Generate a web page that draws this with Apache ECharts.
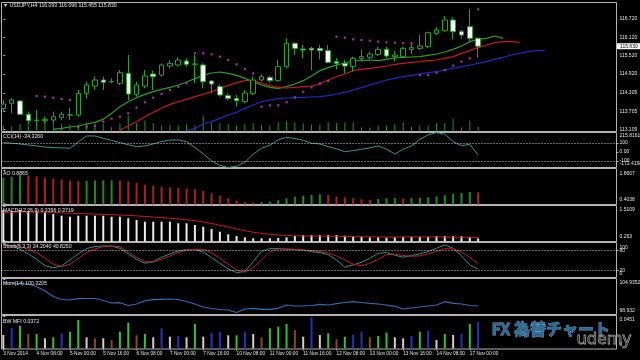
<!DOCTYPE html>
<html><head><meta charset="utf-8">
<script src="https://cdn.jsdelivr.net/npm/echarts@6/dist/echarts.min.js"></script>
<style>html,body{margin:0;padding:0;background:#000}#c{width:640px;height:360px}</style>
</head><body><div id="c"></div>
<script>
// ---------------- DATA ----------------
const symbolName = 'USDJPY,H4';
const opens = [113.790,113.964,114.040,113.605,113.400,113.398,113.419,113.506,113.580,113.583,
114.291,114.530,114.727,114.670,114.618,114.944,114.258,114.530,114.923,114.890,
115.184,115.217,115.347,115.240,115.217,114.694,114.509,114.215,114.127,114.018,
114.291,114.727,114.814,114.705,115.162,115.925,115.740,115.761,115.761,115.685,
115.326,115.271,115.162,115.435,115.467,115.565,115.729,115.489,115.489,115.729,
115.761,115.816,116.252,116.339,116.687,116.306,116.469,116.093];
const highs = [114.073,114.130,114.073,113.692,113.746,113.528,113.692,113.692,113.801,114.400,
114.672,114.835,114.835,114.781,115.053,115.544,114.672,115.053,115.032,115.271,
115.380,115.467,115.435,115.550,115.271,114.727,114.563,114.291,114.236,114.400,
114.835,114.923,114.857,115.380,116.088,115.947,115.870,115.816,115.870,115.870,
115.435,115.380,115.489,115.729,115.652,115.816,115.816,115.685,115.816,115.947,
116.197,116.306,116.448,116.818,116.774,116.361,117.036,116.096];
const lows = [113.692,113.640,113.583,113.289,113.220,113.300,113.300,113.419,113.420,113.528,
114.127,114.400,114.400,114.620,114.563,114.073,114.182,114.454,114.400,114.835,
115.108,115.162,115.162,114.618,114.454,114.291,114.182,114.073,113.855,113.964,
114.236,114.672,114.639,114.672,115.108,115.544,115.435,115.053,115.400,115.271,
115.075,114.944,114.999,115.326,115.402,115.511,115.435,115.326,115.435,115.576,
115.707,115.761,116.197,116.306,116.056,116.088,115.979,115.455];
const closes = [113.942,114.073,113.605,113.398,113.410,113.441,113.528,113.610,113.590,114.291,
114.563,114.727,114.650,114.680,114.966,114.269,114.563,114.857,114.835,115.217,
115.271,115.380,115.239,115.250,114.672,114.596,114.236,114.127,114.051,114.300,
114.727,114.835,114.705,115.162,115.925,115.761,115.707,115.707,115.685,115.304,
115.271,115.184,115.435,115.489,115.576,115.729,115.511,115.544,115.761,115.783,
115.838,116.273,116.361,116.687,116.306,116.197,116.088,115.830];
const tickVolume = [600,500,770,700,1170,1270,1270,770,700,700,
930,700,770,430,830,1600,830,1100,830,600,
700,600,700,600,1600,930,830,770,600,770,
830,670,600,930,1030,930,830,700,700,930,
830,930,930,400,400,600,600,730,930,500,
600,600,830,830,1270,400,1070,500];
// Alligator (already shifted forward: lips +3, teeth +5, jaw +8)
const lips = [null,null,null,null,null,null,
113.114,113.147,113.191,113.223,113.289,113.343,113.441,113.637,113.855,114.018,
114.149,114.258,114.345,114.422,114.487,114.563,114.661,114.770,114.879,114.955,
114.988,114.944,114.879,114.781,114.672,114.563,114.487,114.454,114.509,114.596,
114.705,114.857,115.032,115.130,115.217,115.282,115.347,115.369,115.380,115.358,
115.402,115.446,115.467,115.478,115.489,115.533,115.576,115.642,115.729,115.838,
115.979,116.056,116.088,116.164,116.088];
const teeth = [null,null,null,null,null,null,null,null,null,null,null,null,null,null,
113.093,113.223,113.365,113.528,113.670,113.801,113.931,114.018,114.095,114.182,
114.258,114.345,114.454,114.552,114.639,114.705,114.705,114.618,114.541,114.487,
114.465,114.487,114.509,114.530,114.596,114.727,114.835,114.923,115.032,115.075,
115.108,115.141,115.184,115.239,115.271,115.304,115.326,115.358,115.380,115.435,
115.489,115.598,115.685,115.783,115.870,115.947,115.979,115.990,115.947];
const jaw = [null,null,null,null,null,null,null,null,null,null,null,null,null,null,
null,null,null,null,null,null,null,null,
113.071,113.147,113.289,113.365,113.474,113.583,113.670,113.801,113.910,114.018,
114.073,114.117,114.138,114.149,114.160,114.171,114.182,114.215,114.269,114.324,
114.400,114.476,114.563,114.639,114.727,114.781,114.835,114.879,114.923,114.966,
114.999,115.053,115.108,115.162,115.217,115.271,115.326,115.402,115.467,115.544,
115.598,115.652,115.685,115.685];
const sar = [null,null,null,null,114.204,114.182,114.149,114.106,114.073,113.190,
113.201,113.234,113.365,113.463,113.528,113.637,113.822,113.997,114.149,114.269,
114.400,114.509,114.618,115.598,115.598,115.565,115.489,115.380,115.239,115.086,
114.944,113.855,113.899,113.899,113.997,114.160,114.345,114.487,114.618,114.694,
116.143,116.110,116.056,116.034,116.012,115.979,115.957,115.947,115.930,115.925,
114.890,114.890,114.966,115.053,115.195,115.326,115.435,117.036];
const cci = [103,98,89,78,67,55,48,45,41,112,
178,178,152,128,103,80,59,67,89,115,
133,133,115,50,-20,-100,-150,-172.4158,-158,-115,
-25,40,75,135,163,150,130,97,89,59,
35,3,15,30,45,67,30,-22,30,67,
141,189,215.8161,196,115,70,85,-34.326];
const ao = [1.513,1.570,1.643,1.622,1.587,1.535,1.491,1.448,1.404,1.387,
1.396,1.404,1.409,1.413,1.400,1.361,1.295,1.221,1.169,1.134,
1.100,1.082,1.056,1.030,0.952,0.852,0.747,0.634,0.534,0.473,
0.456,0.465,0.482,0.547,0.630,0.700,0.743,0.773,0.804,0.778,
0.708,0.665,0.634,0.595,0.560,0.600,0.630,0.639,0.626,0.634,
0.647,0.673,0.717,0.769,0.821,0.865,0.904,0.8865];
const macdMain = [1.382,1.346,1.382,1.346,1.346,1.298,1.236,1.173,1.136,1.173,
1.173,1.173,1.173,1.136,1.136,1.078,1.015,0.953,0.953,0.953,
0.953,0.894,0.894,0.832,0.769,0.685,0.586,0.491,0.428,0.380,
0.344,0.344,0.344,0.355,0.380,0.428,0.465,0.465,0.465,0.465,
0.465,0.439,0.428,0.402,0.380,0.380,0.366,0.380,0.402,0.402,
0.402,0.402,0.428,0.428,0.428,0.420,0.400,0.3396];
const macdSignal = [1.291,1.302,1.309,1.309,1.309,1.302,1.291,1.280,1.265,1.254,
1.243,1.232,1.221,1.210,1.199,1.184,1.166,1.147,1.125,1.103,
1.081,1.052,1.023,0.986,0.942,0.887,0.825,0.758,0.685,0.619,
0.568,0.524,0.491,0.465,0.447,0.435,0.428,0.428,0.428,0.421,
0.417,0.410,0.406,0.402,0.399,0.395,0.391,0.391,0.391,0.391,
0.391,0.391,0.391,0.388,0.384,0.380,0.377,0.3719];
const stochMain = [99.5,93.5,83.6,69.8,54.1,35.3,28.4,34.3,52.1,69.8,
85.6,91.5,93.5,92.5,86.6,69.8,54.1,42.2,47.1,60.0,
69.8,78.7,82.6,82.6,75.7,59.0,42.2,25.4,14.6,17.6,
47.1,77.7,85.6,85.6,83.6,82.6,80.7,76.7,73.8,67.8,
52.1,30.4,37.3,45.2,57.0,71.8,73.8,65.9,60.0,64.9,
69.8,76.7,86.6,96.4,86.6,63.9,37.3,24.204];
const stochSignal = [96.4,94.5,91.5,83.6,73.8,57.0,39.3,32.3,39.3,57.0,
73.8,84.6,91.5,93.5,91.5,75.7,60.0,47.1,45.2,54.1,
63.9,73.8,80.7,83.6,82.6,73.8,57.0,39.3,22.5,15.6,
29.4,52.1,76.7,84.6,84.6,83.6,81.7,79.7,76.7,72.8,
63.9,52.1,39.3,34.3,42.2,54.1,67.8,69.8,64.9,62.9,
63.9,69.8,77.7,85.6,84.6,75.7,60.0,40.825];
const momentum = [104.413,104.326,104.239,104.152,103.717,102.934,101.977,101.455,101.368,101.594,
101.629,101.629,101.281,100.846,100.898,100.411,100.672,101.246,101.420,101.490,
101.542,101.455,101.107,100.672,100.150,99.889,99.715,99.628,99.193,99.802,
99.924,99.750,99.750,99.924,100.498,100.324,100.324,100.411,100.600,100.498,
100.724,100.933,101.072,100.933,100.794,100.672,100.498,100.272,99.802,99.976,
100.150,100.324,100.498,101.072,100.794,100.672,100.411,100.3205];
const bwMfi = [0.0190,0.0293,0.0317,0.0204,0.0204,0.0144,0.0158,0.0214,0.0237,0.0402,
0.0158,0.0144,0.0144,0.0120,0.0237,0.0364,0.0186,0.0204,0.0158,0.0285,
0.0166,0.0176,0.0158,0.0345,0.0166,0.0223,0.0237,0.0186,0.0186,0.0237,
0.0204,0.0158,0.0285,0.0307,0.0345,0.0261,0.0166,0.0440,0.0190,0.0214,
0.0130,0.0166,0.0190,0.0237,0.0158,0.0176,0.0223,0.0158,0.0144,0.0176,
0.0237,0.0251,0.0120,0.0204,0.0190,0.0204,0.0345,0.0372];
const bwMfiZone = ['squat','fake','green','fade','green','squat','green','fake','green','green',
'squat','fade','squat','fade','green','green','fade','green','squat','fake',
'squat','fake','squat','green','squat','fake','fake','squat','green','fake',
'squat','fade','green','green','green','fade','squat','fake','squat','green',
'fade','green','fake','fake','fade','green','green','squat','squat','fake',
'green','fake','squat','green','squat','fake','green','fake'];
// tick labels
const priceTicks = [116.72,116.12,115.52,114.92,114.305,113.705,113.105];
const cciRange = [215.8161,-172.4158];
const cciLevelTicks = [100,0,-100];
const cciLevelLabels = ['100','0.00','-100'];
const aoRange = [1.8607,0.4038];
const macdRange = [1.5109,0.263];
const stochRange = [100,0];
const stochLevelTicks = [80,20];
const momRange = [104.9352,98.932];
const mfiRange = [0.0451,0];
const mfiRangeLabels = ['0.0451','0'];
const stochLevels = [80,20];
const cciLevels = [100,-100];
const dateTickIndex = [0,4,8,12,16,20,24,28,32,36,40,44,48,52,56];
const dateTickLabels = ['3 Nov 2014','4 Nov 08:00','5 Nov 00:00','5 Nov 16:00','6 Nov 08:00','7 Nov 00:00','7 Nov 16:00','10 Nov 08:00','11 Nov 00:00','11 Nov 16:00','12 Nov 08:00','13 Nov 00:00','13 Nov 16:00','14 Nov 08:00','17 Nov 00:00'];

// ---------------- CHART ----------------
const FONT = '"Liberation Sans", Arial, sans-serif';
const TXT = '#e2e2e2';
const FRAME = '#b4b4b4';
const last = closes.length - 1;
const pairs = arr => arr.map((v, i) => [i, v]);

const panels = [
  {top: 2.5, height: 129, min: 113.044, max: 117.259},
  {top: 132.5, height: 35, min: -172.6, max: 216.4},
  {top: 168.5, height: 36, min: 0.3603, max: 1.926},
  {top: 205.5, height: 36, min: 0.2263, max: 1.5475},
  {top: 242.5, height: 35, min: 0, max: 103.6},
  {top: 278.5, height: 36, min: 98.845, max: 105.109},
  {top: 315.5, height: 33.5, min: -0.0007, max: 0.0465}
];
const XMIN = -0.216, XMAX = 73.61;

const grid = panels.map(p => ({left: 1.5, width: 615, top: p.top, height: p.height,
  show: true, borderColor: FRAME, borderWidth: 1, backgroundColor: 'transparent',
  containLabel: false, outerBoundsMode: 'none'}));

const xAxis = panels.map((p, k) => {
  const bottom = k === panels.length - 1;
  return {type: 'value', gridIndex: k, min: XMIN, max: XMAX, show: bottom,
    axisLine: {show: false}, splitLine: {show: false},
    axisTick: {show: bottom, customValues: dateTickIndex, length: 2, lineStyle: {color: '#a0a0a0'}},
    axisLabel: {show: bottom, customValues: dateTickIndex, align: 'left', margin: 2.5,
      showMinLabel: true, showMaxLabel: true,
      fontSize: 4.8, color: TXT, fontFamily: FONT,
      formatter: v => dateTickLabels[dateTickIndex.indexOf(v)] || ''}};
});

const richBase = {fontSize: 5, color: TXT, fontFamily: FONT};
// edge = true: values are [max, min] of the window; max label drawn below its line, min label above its line
function valueAxis(k, values, texts, edge) {
  return {type: 'value', gridIndex: k, position: 'right', min: panels[k].min, max: panels[k].max,
    axisLine: {show: false}, splitLine: {show: false},
    axisTick: {show: true, customValues: values, length: 2, lineStyle: {color: FRAME}},
    axisLabel: {show: true, customValues: values, margin: 3, fontSize: 5, color: TXT, fontFamily: FONT,
      showMinLabel: true, showMaxLabel: true,
      formatter: v => {
        const i = values.findIndex(x => Math.abs(x - v) < 1e-7);
        if (i < 0) return '';
        let key = 'm';
        if (edge) key = (i === 0) ? 't' : 'b';
        return '{' + key + '|' + texts[i] + '}';
      },
      rich: {m: Object.assign({}, richBase),
             t: Object.assign({padding: [7, 0, 0, 0]}, richBase),
             b: Object.assign({padding: [0, 0, 7, 0]}, richBase)}}};
}

const yAxis = [
  valueAxis(0, priceTicks, priceTicks.map(v => v.toFixed(3)), false),
  valueAxis(1, cciRange, cciRange.map(String), true),
  valueAxis(2, aoRange, aoRange.map(v => v.toFixed(4)), true),
  valueAxis(3, macdRange, macdRange.map(String), true),
  valueAxis(4, stochRange, stochRange.map(String), true),
  valueAxis(5, momRange, momRange.map(String), true),
  valueAxis(6, mfiRange, mfiRangeLabels, true),
  // volume (hidden) axis in main panel -> index 7
  {type: 'value', gridIndex: 0, min: 0, max: 12900, show: false},
  // current price box -> index 8
  {type: 'value', gridIndex: 0, position: 'right', min: panels[0].min, max: panels[0].max,
    axisLine: {show: false}, axisTick: {show: false}, splitLine: {show: false},
    axisLabel: {show: true, customValues: [closes[last]], margin: 0.5,
      showMinLabel: true, showMaxLabel: true,
      formatter: v => v.toFixed(3), fontSize: 5, fontFamily: FONT, color: '#000',
      backgroundColor: '#ffffff', padding: [0.5, 6, 0.5, 3]}},
  // level labels (separate axes so they are not dropped when overlapping the range labels)
  valueAxis(1, cciLevelTicks, cciLevelLabels, false),
  valueAxis(4, stochLevelTicks, stochLevelTicks.map(String), false)
];

const aoData = ao.map((v, i) => ({value: [i, v],
  itemStyle: {color: (i === 0 || v >= ao[i - 1]) ? '#1e8c1e' : '#b01e1e'}}));
const mfiColor = {green: '#33c233', fade: '#8a4a1c', fake: '#2233c0', squat: '#d6cccc'};
const mfiData = bwMfi.map((v, i) => ({value: [i, v], itemStyle: {color: mfiColor[bwMfiZone[i]]}}));
const dotted = (levels) => ({silent: true, symbol: ['none', 'none'], label: {show: false},
  lineStyle: {type: [1, 2], color: '#cfcfcf', width: 1}, data: levels.map(l => ({yAxis: l}))});

const series = [
  {type: 'bar', xAxisIndex: 0, yAxisIndex: 7, data: pairs(tickVolume), barWidth: 1,
    itemStyle: {color: '#1f941f'}, z: 1},
  {type: 'line', xAxisIndex: 0, yAxisIndex: 0, data: pairs(lips), showSymbol: false,
    lineStyle: {color: '#2aa02a', width: 1.2}, z: 2},
  {type: 'line', xAxisIndex: 0, yAxisIndex: 0, data: pairs(teeth), showSymbol: false,
    lineStyle: {color: '#c01c1c', width: 1.2}, z: 2},
  {type: 'line', xAxisIndex: 0, yAxisIndex: 0, data: pairs(jaw), showSymbol: false,
    lineStyle: {color: '#1a2ec0', width: 1.2}, z: 2},
  {type: 'candlestick', xAxisIndex: 0, yAxisIndex: 0, barWidth: 5,
    data: opens.map((o, i) => [i, o, closes[i], lows[i], highs[i]]),
    itemStyle: {color: '#000000', color0: '#ffffff', borderColor: '#22a822', borderColor0: '#22a822', borderWidth: 1}, z: 3},
  {type: 'scatter', xAxisIndex: 0, yAxisIndex: 0, data: pairs(sar).filter(d => d[1] != null),
    symbol: 'rect', symbolSize: 2.2, itemStyle: {color: '#c83cc8'}, z: 4},
  {type: 'line', xAxisIndex: 1, yAxisIndex: 1, data: pairs(cci), showSymbol: false,
    lineStyle: {color: '#3a9494', width: 1}, markLine: dotted(cciLevels)},
  {type: 'bar', xAxisIndex: 2, yAxisIndex: 2, data: aoData, barWidth: 2},
  {type: 'bar', xAxisIndex: 3, yAxisIndex: 3, data: pairs(macdMain), barWidth: 2,
    itemStyle: {color: '#ececec'}},
  {type: 'line', xAxisIndex: 3, yAxisIndex: 3, data: pairs(macdSignal), showSymbol: false,
    lineStyle: {color: '#c81c1c', width: 1}, z: 3},
  {type: 'line', xAxisIndex: 4, yAxisIndex: 4, data: pairs(stochMain), showSymbol: false,
    lineStyle: {color: '#2f9090', width: 1}, markLine: dotted(stochLevels)},
  {type: 'line', xAxisIndex: 4, yAxisIndex: 4, data: pairs(stochSignal), showSymbol: false,
    lineStyle: {color: '#c41c1c', width: 1}},
  {type: 'line', xAxisIndex: 5, yAxisIndex: 5, data: pairs(momentum), showSymbol: false,
    lineStyle: {color: '#2f6cb8', width: 1.2}},
  {type: 'bar', xAxisIndex: 6, yAxisIndex: 6, data: mfiData, barWidth: 2}
];

const legendTexts = [
  {text: '\u25BC ' + symbolName + ' ' + opens[last].toFixed(3) + ' ' + highs[last].toFixed(3) + ' ' + lows[last].toFixed(3) + ' ' + closes[last].toFixed(3), top: 3.5},
  {text: 'CCI(14) ' + cci[last].toFixed(4), top: 134},
  {text: 'AO ' + ao[last].toFixed(4), top: 171.5},
  {text: 'MACD(12,26,9) ' + macdMain[last].toFixed(4) + ' ' + macdSignal[last].toFixed(4), top: 208.5},
  {text: 'Stoch(5,3,3) ' + stochMain[last].toFixed(4) + ' ' + stochSignal[last].toFixed(4), top: 244.5},
  {text: 'Mom(14) ' + momentum[last].toFixed(4), top: 281.5},
  {text: 'BW MFI ' + bwMfi[last].toFixed(4), top: 319}
];

const option = {
  backgroundColor: '#000000',
  animation: false,
  title: legendTexts.map(t => ({text: t.text, left: 3, top: t.top, padding: 0,
    textStyle: {fontSize: 5.2, fontWeight: 'normal', color: TXT, fontFamily: FONT}})),
  grid, xAxis, yAxis, series,
  graphic: [
    {type: 'text', left: 491, top: 321, z: 100,
      style: {text: 'FX 為替チャート', font: 'bold 16px "Noto Sans CJK JP"', fill: '#2d6a94', stroke: '#6aa0c8', lineWidth: 0.8}},
    {type: 'text', left: 576, top: 330, z: 101,
      style: {text: 'udemy', font: '17px "Open Sans"', fill: 'rgba(0,0,0,0.2)', stroke: '#a8a8a8', lineWidth: 0.8}}
  ]
};

const chart = echarts.init(document.getElementById('c'), null, {renderer: 'canvas'});
chart.setOption(option);
</script>
</body></html>
